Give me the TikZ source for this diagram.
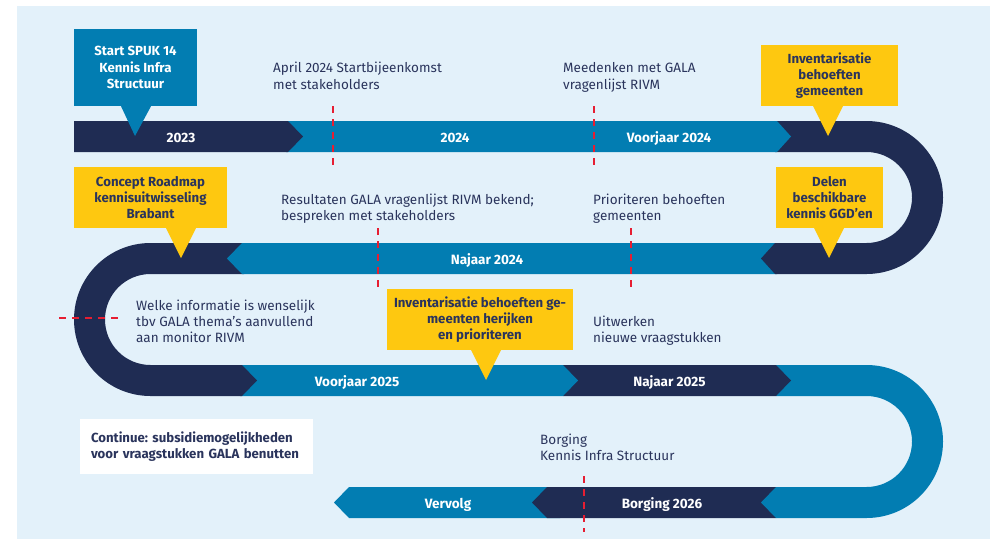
\documentclass[tikz,border=0pt]{standalone}
\usepackage{fontspec}
\setmainfont{Fira Sans}
\frenchspacing
\definecolor{navy}{RGB}{31,44,83}
\definecolor{mblue}{RGB}{2,125,178}
\definecolor{myellow}{RGB}{254,200,16}
\definecolor{bgblue}{RGB}{227,241,250}
\definecolor{txt}{RGB}{42,52,92}
\definecolor{mred}{RGB}{230,30,50}
\begin{document}
\begin{tikzpicture}[x=1pt,y=1pt,
  bandlabel/.style={font=\fontsize{13.5}{15}\selectfont\bfseries, text=white, anchor=base, inner sep=0},
  note/.style={font=\fontsize{13.5}{16.3}\selectfont, text=txt, align=left, anchor=north west, inner sep=0},
  callout/.style={font=\fontsize{13.2}{16.3}\selectfont\bfseries, align=center, inner sep=0},
  ybox/.style={callout, fill=myellow, text=txt},
  bbox/.style={callout, fill=mblue, text=white},
  redline/.style={draw=mred, line width=1.8pt, dash pattern=on 7pt off 6pt},
]
\useasboundingbox (0,0) rectangle (995,-539);
\fill[bgblue] (17,-6) rectangle (990,-539);

% ---- bands (drawn back to front) ----
% row 4: Vervolg
\fill[mblue] (349,-487) -- (560,-487) -- (560,-518) -- (349,-518) -- (334,-502.5) -- cycle;
% row 4: Borging 2026
\fill[navy] (547,-487) -- (776,-487) -- (776,-518) -- (547,-518) -- (532,-502.5) -- cycle;
% right lower U (blue)
\fill[mblue] (776,-365) -- (866.5,-365) arc[start angle=90,end angle=-90,radius=76.5]
  -- (776,-518) -- (761,-502.5) -- (776,-487) -- (866.5,-487)
  arc[start angle=-90,end angle=90,radius=45.5] -- (776,-396) -- cycle;
% row 3: Najaar 2025
\fill[navy] (563,-365) -- (776,-365) -- (791,-380.5) -- (776,-396) -- (563,-396) -- cycle;
% row 3: Voorjaar 2025
\fill[mblue] (240,-365) -- (563,-365) -- (578,-380.5) -- (563,-396) -- (240,-396) -- cycle;
% left U (dark)
\fill[navy] (244,-243) -- (150.5,-243) arc[start angle=90,end angle=270,radius=76.5]
  -- (242,-396) -- (257,-380.5) -- (242,-365) -- (150.5,-365)
  arc[start angle=270,end angle=90,radius=45.5] -- (244,-274) -- cycle;
% row 2: Najaar 2024
\fill[mblue] (242,-243) -- (777,-243) -- (777,-274) -- (242,-274) -- (227,-258.5) -- cycle;
% right upper U (dark)
\fill[navy] (775,-121) -- (866.5,-121) arc[start angle=90,end angle=-90,radius=76.5]
  -- (775,-274) -- (761,-258.5) -- (775,-243) -- (866.5,-243)
  arc[start angle=-90,end angle=90,radius=45.5] -- (775,-152) -- cycle;
% row 1: 2024 / Voorjaar 2024
\fill[mblue] (286,-121) -- (777,-121) -- (791,-136.5) -- (777,-152) -- (286,-152) -- cycle;
% row 1: 2023
\fill[navy] (74,-121) -- (288,-121) -- (303,-136.5) -- (288,-152) -- (74,-152) -- cycle;

% ---- band labels ----
\node[bandlabel] (l2023) at (181,-142) {2023};
\node[bandlabel] (l2024) at (455,-142) {2024};
\node[bandlabel] (lvj24) at (669,-142) {Voorjaar 2024};
\node[bandlabel] (lnj24) at (487,-264) {Najaar 2024};
\node[bandlabel] (lvj25) at (357,-386) {Voorjaar 2025};
\node[bandlabel] (lnj25) at (669.5,-386) {Najaar 2025};
\node[bandlabel] (lbo26) at (662,-508) {Borging 2026};
\node[bandlabel] (lverv) at (448,-508) {Vervolg};

% ---- callouts ----
\node[bbox, minimum width=123pt, minimum height=77pt] (start) at (135.5,-67.5)
  {Start SPUK 14\\Kennis Infra\\Structuur};
\fill[mblue] (start.south) ++(-14.5,0) -- ++(30,0) -- (135,-136) -- cycle;

\node[ybox, minimum width=137pt, minimum height=61pt] (inv1) at (829.5,-75.5)
  {Inventarisatie\\behoeften\\gemeenten};
\fill[myellow] (813,-106) -- (843,-106) -- (828,-136) -- cycle;

\node[ybox, minimum width=107pt, minimum height=61pt] (delen) at (829.5,-197.5)
  {Delen\\beschikbare\\kennis GGD’en};
\fill[myellow] (814,-228) -- (844,-228) -- (829,-258) -- cycle;

\node[ybox, minimum width=153pt, minimum height=61pt] (concept) at (150.5,-197.5)
  {Concept Roadmap\\kennisuitwisseling\\Brabant};
\fill[myellow] (166,-228) -- (196,-228) -- (181,-258) -- cycle;

\node[ybox, minimum width=186pt, minimum height=61pt] (inv2) at (480,-319.5)
  {Inventarisatie behoeften ge-\\meenten herijken\\en prioriteren};
\fill[myellow] (471,-350) -- (501,-350) -- (486,-380) -- cycle;

\node[callout, fill=white, text=txt, align=left, inner xsep=11pt, text width=211pt,
  minimum height=55pt] (cont) at (196.5,-446.5)
  {Continue: subsidiemogelijkheden\\voor vraagstukken GALA benutten};

% ---- notes ----
\node[note] (april) at (273,-62) {April 2024 Startbijeenkomst\\met stakeholders};
\node[note] (meed) at (563,-62.5) {Meedenken met GALA\\vragenlijst RIVM};
\node[note] (res) at (281,-193.5) {Resultaten GALA vragenlijst RIVM bekend;\\bespreken met stakeholders};
\node[note] (prio) at (593,-193.5) {Prioriteren behoeften\\gemeenten};
\node[note] (welke) at (136,-299.5) {Welke informatie is wenselijk\\tbv GALA thema’s aanvullend\\aan monitor RIVM};
\node[note] (uitw) at (593,-315.5) {Uitwerken\\nieuwe vraagstukken};
\node[note] (borg) at (540,-433.5) {Borging\\Kennis Infra Structuur};

% ---- red dashed markers ----
\coordinate (d1a) at (333,-106); \coordinate (d1b) at (333,-167);
\coordinate (d2a) at (594,-106); \coordinate (d2b) at (594,-167);
\coordinate (d3a) at (378,-228); \coordinate (d3b) at (378,-288);
\coordinate (d4a) at (631,-228); \coordinate (d4b) at (631,-288);
\coordinate (d5a) at (59,-318);  \coordinate (d5b) at (121,-318);
\coordinate (d6a) at (584,-476); \coordinate (d6b) at (584,-532);
\draw[redline] (d1a) -- (d1b);
\draw[redline] (d2a) -- (d2b);
\draw[redline] (d3a) -- (d3b);
\draw[redline] (d4a) -- (d4b);
\draw[redline] (d5a) -- (d5b);
\draw[redline] (d6a) -- (d6b);
\end{tikzpicture}
\end{document}
